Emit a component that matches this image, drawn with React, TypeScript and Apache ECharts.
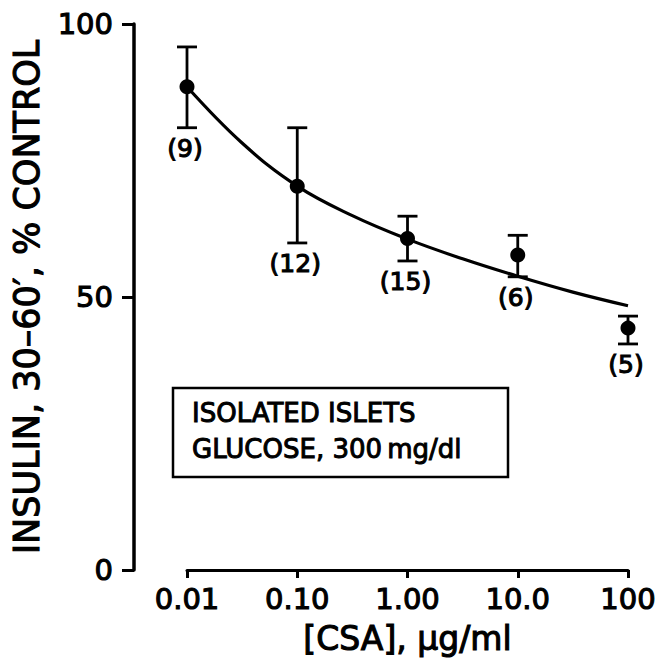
import React, { useEffect, useRef } from "react";
import * as echarts from "echarts";

// ---- data ----
const xTickValues = [0.01, 0.1, 1, 10, 100];
const xTickLabels = ["0.01", "0.10", "1.00", "10.0", "100"];

const doses = [0.01, 0.1, 1, 10, 100];
const meanInsulin = [88.5, 70.3, 60.7, 57.7, 44.3];
const errLow = [81.0, 59.9, 56.6, 53.7, 41.4];
const errHigh = [95.8, 81.0, 64.8, 61.3, 46.5];
const nObs = [9, 12, 15, 6, 5];

const curveX = [0.01, 0.0316, 0.1, 0.316, 1, 3.16, 10, 31.6, 100];
const curveY = [88.5, 78.2, 70.3, 64.9, 60.6, 57.0, 53.8, 50.9, 48.4];

const boxLines = ["ISOLATED ISLETS", "GLUCOSE, 300\u2009mg/dl"];

const FONT = "DejaVu Sans";
const BOLDEN = { textBorderColor: "#000", textBorderWidth: 1.1 };

export default function App() {
  const ref = useRef<HTMLDivElement | null>(null);

  useEffect(() => {
    document.body.style.margin = "0";
    if (!ref.current) return;
    const chart = echarts.init(ref.current, null, { renderer: "svg" });

    const errData = doses.map((d, i) => [d, errLow[i], errHigh[i]]);

    const option: any = {
      animation: false,
      backgroundColor: "#ffffff",
      grid: { left: 187, right: 32, top: 24, bottom: 92, containLabel: false },
      xAxis: {
        type: "log",
        logBase: 10,
        min: 0.01,
        max: 100,
        name: "[CSA], \u00b5g/ml",
        nameLocation: "middle",
        nameGap: 52,
        nameTextStyle: { fontFamily: FONT, fontSize: 33, color: "#000", ...BOLDEN },
        axisLine: { show: true, lineStyle: { color: "#000", width: 3 } },
        axisTick: { show: true, inside: false, length: 8, lineStyle: { color: "#000", width: 3 } },
        minorTick: { show: false },
        splitLine: { show: false },
        axisLabel: {
          margin: 14,
          fontFamily: FONT,
          fontSize: 29,
          color: "#000",
          ...BOLDEN,
          formatter: (v: number) => {
            let best = 0;
            for (let i = 0; i < xTickValues.length; i++) {
              if (Math.abs(Math.log10(v) - Math.log10(xTickValues[i])) <
                  Math.abs(Math.log10(v) - Math.log10(xTickValues[best]))) best = i;
            }
            return xTickLabels[best];
          },
        },
      },
      yAxis: {
        type: "value",
        min: 0,
        max: 100,
        interval: 50,
        offset: 53,
        name: "INSULIN, 30\u201360\u2032, % CONTROL",
        nameLocation: "middle",
        nameGap: 90,
        nameTextStyle: { fontFamily: FONT, fontSize: 35, color: "#000", ...BOLDEN },
        axisLine: { show: true, lineStyle: { color: "#000", width: 3.5 } },
        axisTick: { show: true, inside: false, length: 12, lineStyle: { color: "#000", width: 3 } },
        splitLine: { show: false },
        axisLabel: { margin: 21, fontFamily: FONT, fontSize: 29, color: "#000", ...BOLDEN },
      },
      series: [
        {
          type: "line",
          data: curveX.map((x, i) => [x, curveY[i]]),
          smooth: 0.4,
          showSymbol: false,
          symbol: "none",
          lineStyle: { color: "#000", width: 3.2 },
          z: 2,
        },
        {
          type: "custom",
          data: errData,
          encode: { x: 0, y: [1, 2] },
          z: 3,
          renderItem: (params: any, api: any) => {
            const x = api.value(0);
            const lo = api.coord([x, api.value(1)]);
            const hi = api.coord([x, api.value(2)]);
            const cap = 10;
            const st = { stroke: "#000", lineWidth: 2.8 };
            return {
              type: "group",
              children: [
                { type: "line", shape: { x1: lo[0], y1: lo[1], x2: hi[0], y2: hi[1] }, style: st },
                { type: "line", shape: { x1: lo[0] - cap, y1: lo[1], x2: lo[0] + cap, y2: lo[1] }, style: st },
                { type: "line", shape: { x1: hi[0] - cap, y1: hi[1], x2: hi[0] + cap, y2: hi[1] }, style: st },
                {
                  type: "text",
                  x: lo[0] - 2,
                  y: lo[1] + 21,
                  style: {
                    text: "(" + nObs[params.dataIndex] + ")",
                    fontFamily: FONT,
                    fontSize: 25,
                    fill: "#000",
                    stroke: "#000",
                    lineWidth: 1.1,
                    align: "center",
                    verticalAlign: "middle",
                  },
                },
              ],
            };
          },
        },
        {
          type: "scatter",
          data: doses.map((d, i) => [d, meanInsulin[i]]),
          symbol: "circle",
          symbolSize: 15,
          itemStyle: { color: "#000", opacity: 1 },
          z: 4,
        },
      ],
      graphic: [
        {
          type: "rect",
          shape: { x: 173, y: 388, width: 335, height: 89 },
          style: { fill: "none", stroke: "#000", lineWidth: 2.5 },
        },
        {
          type: "text",
          x: 192,
          y: 413,
          style: { text: boxLines[0], fontFamily: FONT, fontSize: 26, fill: "#000", stroke: "#000", lineWidth: 1, align: "left", verticalAlign: "middle" },
        },
        {
          type: "text",
          x: 192,
          y: 449,
          style: { text: boxLines[1], fontFamily: FONT, fontSize: 26, fill: "#000", stroke: "#000", lineWidth: 1, align: "left", verticalAlign: "middle" },
        },
      ],
    };

    chart.setOption(option);
    return () => chart.dispose();
  }, []);

  return (
    <div
      ref={ref}
      style={{ position: "absolute", left: 0, top: 0, width: 660, height: 662, background: "#fff" }}
    />
  );
}
